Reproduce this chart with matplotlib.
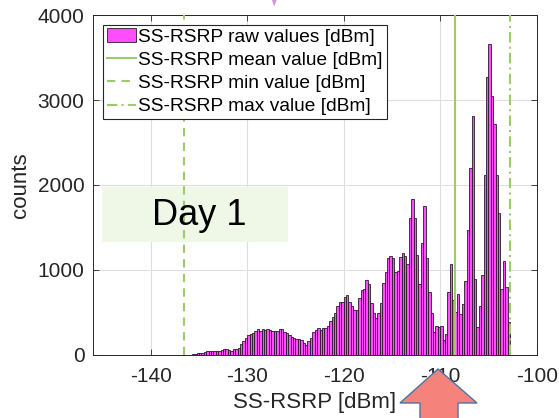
import numpy as np
import matplotlib
matplotlib.use('Agg')
import matplotlib.pyplot as plt
from matplotlib.patches import Polygon, Rectangle

plt.rcParams['font.family'] = ['Liberation Sans', 'DejaVu Sans']
plt.rcParams['axes.unicode_minus'] = False

# histogram of SS-RSRP, 0.25 dB bins starting at -135.75 dBm
bin_start = -135.75
bin_width = 0.25
counts = [10, 15, 20, 20, 25, 35, 40, 40, 45, 45,
          40, 45, 60, 65, 65, 60, 45, 65, 70, 80,
          125, 160, 195, 230, 245, 260, 280, 300, 280, 310,
          295, 310, 295, 285, 285, 285, 300, 305, 275, 255,
          235, 215, 195, 185, 190, 175, 140, 118, 165, 200,
          275, 295, 315, 295, 315, 315, 340, 400, 450, 490,
          575, 625, 625, 680, 705, 625, 570, 530, 530, 665,
          765, 775, 880, 835, 610, 490, 430, 490, 615, 845,
          970, 1140, 1165, 1140, 980, 990, 1150, 1195, 1165, 1070,
          1610, 1830, 1610, 1170, 835, 1320, 1750, 1140, 745, 490,
          275, 345, 325, 345, 170, 247, 745, 1070, 650, 500,
          717, 482, 600, 875, 1470, 2195, 2810, 895, 325, 572,
          945, 2120, 3275, 3665, 3050, 2720, 2120, 1665, 775, 1110,
          795, 385]

rsrp_mean = -108.45
rsrp_min = -136.5
rsrp_max = -102.8

xticks = [-140, -130, -120, -110, -100]
yticks = [0, 1000, 2000, 3000, 4000]

green = '#9dca6a'

fig = plt.figure(figsize=(5.59, 4.18), dpi=100)
ax = fig.add_axes([0.166, 0.151, 0.794, 0.813])

left_edges = bin_start + bin_width * np.arange(len(counts))
bars = ax.bar(left_edges, counts, width=bin_width, align='edge',
              facecolor='#ff4dff', edgecolor='#2a1a2a', linewidth=0.6, zorder=2)
l1 = ax.axvline(rsrp_mean, color=green, lw=1.5, ls='-', zorder=3)
l2 = ax.axvline(rsrp_min, color=green, lw=1.5, ls=(0, (4, 3)), zorder=3)
l3 = ax.axvline(rsrp_max, color=green, lw=1.5, ls=(0, (5, 2, 1, 2)), zorder=3)

ax.set_xlim(-146, -100)
ax.set_ylim(0, 4000)
ax.set_xticks(xticks)
ax.set_yticks(yticks)
ax.tick_params(direction='in', top=True, right=True, length=4, width=0.6,
               labelsize=15, colors='#262626')
ax.tick_params(axis='x', pad=9)
ax.tick_params(axis='y', pad=6)
ax.grid(True, color='#dedede', lw=0.8, zorder=0)
ax.set_axisbelow(True)
for s in ax.spines.values():
    s.set_color('#262626')
    s.set_linewidth(0.7)

ax.set_xlabel('SS-RSRP [dBm]', fontsize=16, color='#262626', labelpad=4)
ax.set_ylabel('counts', fontsize=16, color='#262626', labelpad=5)

# "Day 1" box
ax.add_patch(Rectangle((-145, 1330), 19.2, 646, facecolor='#eff8e6',
                       edgecolor='none', zorder=1))
ax.text(-135.0, 1640, 'Day 1', fontsize=26, ha='center', va='center', zorder=4)

leg = ax.legend([bars, l1, l2, l3],
                ['SS-RSRP raw values [dBm]', 'SS-RSRP mean value [dBm]',
                 'SS-RSRP min value [dBm]', 'SS-RSRP max value [dBm]'],
                loc='upper left', bbox_to_anchor=(0.023, 0.972), borderaxespad=0,
                fontsize=13.8, fancybox=False, framealpha=1, edgecolor='#262626',
                handlelength=1.5, handletextpad=0.15, labelspacing=0.3, borderpad=0.2)
leg.get_frame().set_linewidth(0.8)

# screenshot overlays: arrow at bottom and tip at top
W, H = 559, 418
def fpts(pts):
    return [(x / W, 1 - y / H) for x, y in pts]

arrow = [(438, 369), (477, 403), (458, 403), (458, 420), (420, 420), (420, 403), (400, 403)]
fig.add_artist(Polygon(fpts(arrow), closed=True, transform=fig.transFigure,
                       facecolor='#f6827c', edgecolor='#4a74a8', lw=1.0, zorder=10))
tip = [(271.5, -1), (277, -1), (274.2, 6.5)]
fig.add_artist(Polygon(fpts(tip), closed=True, transform=fig.transFigure,
                       facecolor='#c99bd0', edgecolor='none', zorder=10))

fig.savefig('out.png', dpi=100)
